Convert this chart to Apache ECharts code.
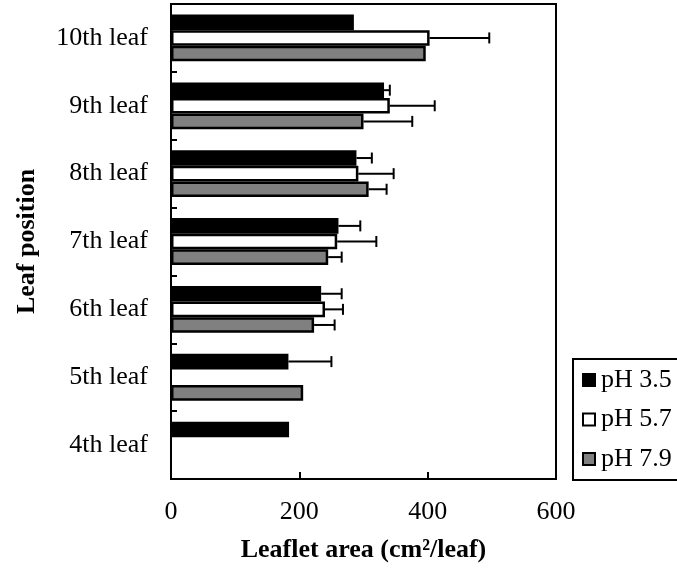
<!DOCTYPE html>
<html>
<head>
<meta charset="utf-8">
<script src="https://cdn.jsdelivr.net/npm/echarts@6/dist/echarts.min.js"></script>
<style>
  html, body { margin: 0; padding: 0; background: #fff; }
  #chart { width: 677px; height: 569px; }
</style>
</head>
<body>
<div id="chart"></div>
<script>
// Leaflet area by leaf position, grouped by soil pH (mean and SE, cm²/leaf)
const categories = ['4th leaf', '5th leaf', '6th leaf', '7th leaf', '8th leaf', '9th leaf', '10th leaf'];
const seriesNames = ['pH 3.5', 'pH 5.7', 'pH 7.9'];
const ph35 = [184, 183, 234, 261, 289, 332, 285];
const ph35Err = [null, 67, 32, 34, 24, 9, null];
const ph57 = [null, null, 240, 259, 292, 341, 403];
const ph57Err = [null, null, 28, 61, 55, 70, 93];
const ph79 = [null, 206, 223, 245, 308, 300, 397];
const ph79Err = [null, null, 32, 21, 28, 76, null];
const xTicks = [0, 200, 400, 600];

const values = [ph35, ph57, ph79];
const errors = [ph35Err, ph57Err, ph79Err];
const fills = ['#000000', '#ffffff', '#808080'];
const FONT = 'Liberation Serif';
const CAT_GAP = 0.31;

// error bar items: [category index, mean, error, series index]
const errData = [];
errors.forEach((errs, s) => {
  errs.forEach((e, i) => {
    if (e != null && values[s][i] != null) errData.push([i, values[s][i], e, s]);
  });
});

const chart = echarts.init(document.getElementById('chart'), null, { renderer: 'canvas' });

const barSeries = seriesNames.map((name, s) => ({
  name: name,
  type: 'bar',
  data: values[s],
  barGap: '0%',
  barCategoryGap: (CAT_GAP * 100) + '%',
  itemStyle: { color: fills[s], borderColor: '#000', borderWidth: 2.5 },
  emphasis: { disabled: true },
  z: 2
}));

const errSeries = {
  type: 'custom',
  data: errData,
  encode: { x: 1, y: 0 },
  z: 5,
  silent: true,
  renderItem: function (params, api) {
    const cat = api.value(0);
    const mean = api.value(1);
    const err = api.value(2);
    const s = api.value(3);
    const band = api.size([0, 1])[1];
    const group = band * (1 - CAT_GAP);
    const bw = group / 3;
    const center = api.coord([mean, cat]);
    const y = center[1] - group / 2 + bw * (s + 0.5);
    const x0 = center[0];
    const x1 = api.coord([mean + err, cat])[0];
    const cap = 5.5;
    const st = { stroke: '#000', lineWidth: 2 };
    return {
      type: 'group',
      children: [
        { type: 'line', shape: { x1: x0, y1: y, x2: x1, y2: y }, style: st },
        { type: 'line', shape: { x1: x1, y1: y - cap, x2: x1, y2: y + cap }, style: st }
      ]
    };
  }
};

chart.setOption({
  animation: false,
  backgroundColor: '#fff',
  grid: {
    left: 171, right: 121, top: 4, bottom: 90,
    show: true, borderColor: '#000', borderWidth: 2, backgroundColor: 'transparent'
  },
  // legend frame: open on the right, where it runs off the canvas
  graphic: [{
    type: 'polyline',
    shape: { points: [[720, 359], [573, 359], [573, 480], [720, 480]] },
    style: { fill: null, stroke: '#000', lineWidth: 2 },
    z: 0, silent: true
  }],
  legend: {
    data: seriesNames,
    orient: 'vertical',
    left: 573, top: 359,
    padding: [8, 0, 0, 9],
    itemWidth: 12, itemHeight: 12, itemGap: 13.5,
    icon: 'rect',
    selectedMode: false,
    z: 5,
    textStyle: { fontFamily: FONT, fontSize: 26, color: '#000', padding: [0, 0, 0, 1] }
  },
  xAxis: {
    type: 'value',
    min: xTicks[0], max: xTicks[xTicks.length - 1], interval: xTicks[1] - xTicks[0],
    name: 'Leaflet area (cm²/leaf)',
    nameLocation: 'middle',
    nameGap: 58,
    nameTextStyle: { fontFamily: FONT, fontSize: 26, fontWeight: 'bold', color: '#000' },
    axisLine: { show: true, lineStyle: { color: '#000', width: 2 } },
    axisTick: { show: true, inside: true, length: 7, lineStyle: { color: '#000', width: 2 } },
    axisLabel: { fontFamily: FONT, fontSize: 26, color: '#000', margin: 20 },
    splitLine: { show: false }
  },
  yAxis: {
    type: 'category',
    data: categories,
    name: 'Leaf position',
    nameLocation: 'middle',
    nameGap: 131,
    nameRotate: 90,
    nameTextStyle: { fontFamily: FONT, fontSize: 26, fontWeight: 'bold', color: '#000' },
    axisLine: { show: true, lineStyle: { color: '#000', width: 2 } },
    axisTick: { show: true, inside: true, length: 6, lineStyle: { color: '#000', width: 2 } },
    axisLabel: { fontFamily: FONT, fontSize: 26, color: '#000', margin: 23 },
    splitLine: { show: false }
  },
  series: barSeries.concat([errSeries])
});
</script>
</body>
</html>
